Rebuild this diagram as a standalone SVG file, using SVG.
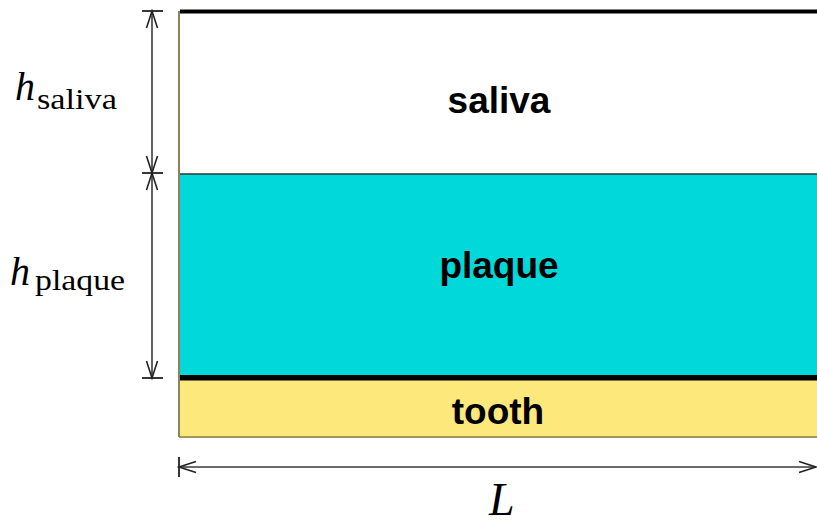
<svg xmlns="http://www.w3.org/2000/svg" width="817" height="526" viewBox="0 0 817 526">
<style>
.lbl{font-family:"Liberation Sans",Arial,Helvetica,sans-serif;font-weight:bold;font-size:37px;fill:#000;text-anchor:middle}
.mi{font-family:"Liberation Serif","Times New Roman",serif;font-style:italic;fill:#000}
.sub{font-family:"Liberation Serif","Times New Roman",serif;font-size:30px;fill:#000}
.dim{stroke:#3a3a3a;stroke-width:1.6;fill:none}
.tick{stroke:#222;stroke-width:1.8;fill:none}
.edge{stroke:#8c8260;stroke-width:2;fill:none}
</style>
<defs>
<marker id="ah" markerUnits="userSpaceOnUse" markerWidth="24" markerHeight="16" viewBox="-20 -8 24 16" refX="0" refY="0" orient="auto-start-reverse">
<path d="M-17,-5.5 L0,0 L-17,5.5" fill="none" stroke="#222" stroke-width="1.6"/>
</marker>
</defs>
<rect width="817" height="526" fill="#fff"/>
<g id="saliva">
<rect x="179" y="11" width="638" height="163" fill="#fff"/>
<text class="lbl" x="499" y="113">saliva</text>
</g>
<g id="plaque">
<rect x="179" y="174" width="638" height="202" fill="#00D8D9"/>
<line x1="179" y1="174" x2="817" y2="174" stroke="#333" stroke-width="1.5"/>
<text class="lbl" x="499" y="278">plaque</text>
</g>
<g id="tooth">
<rect x="179" y="380" width="638" height="57" fill="#FDE87C"/>
<line x1="179" y1="437" x2="817" y2="437" stroke="#a09660" stroke-width="2"/>
<text class="lbl" x="498" y="424">tooth</text>
</g>
<g id="boundaries">
<rect x="180" y="9.5" width="637" height="4" fill="#000"/>
<rect x="179" y="375" width="638" height="5.5" fill="#000"/>
<line class="edge" x1="179" y1="11" x2="179" y2="437"/>
</g>
<g id="connectors">
<line class="dim" x1="152" y1="11" x2="152" y2="173" marker-start="url(#ah)" marker-end="url(#ah)"/>
<line class="dim" x1="152" y1="173" x2="152" y2="378" marker-start="url(#ah)" marker-end="url(#ah)"/>
<line class="dim" x1="179" y1="467" x2="816" y2="467" marker-start="url(#ah)" marker-end="url(#ah)"/>
<line class="tick" x1="142" y1="11" x2="163" y2="11"/>
<line class="tick" x1="142" y1="173" x2="163" y2="173"/>
<line class="tick" x1="142" y1="378" x2="163" y2="378"/>
<line class="tick" x1="179" y1="457" x2="179" y2="477"/>
</g>
<g id="label-h-saliva">
<text class="mi" x="15" y="100" font-size="40">h</text>
<text class="sub" x="37" y="109" textLength="80" lengthAdjust="spacingAndGlyphs">saliva</text>
</g>
<g id="label-h-plaque">
<text class="mi" x="10" y="285" font-size="40">h</text>
<text class="sub" x="35" y="290" textLength="90" lengthAdjust="spacingAndGlyphs">plaque</text>
</g>
<g id="label-L">
<text class="mi" x="489" y="515" font-size="46">L</text>
</g>
</svg>
